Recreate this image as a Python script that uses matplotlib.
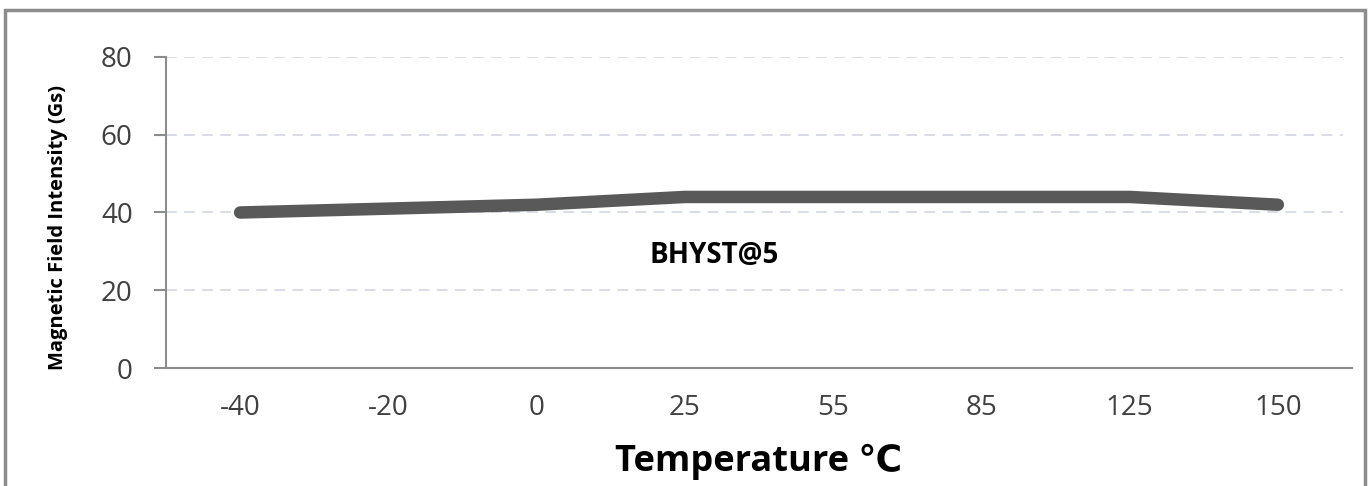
import matplotlib
matplotlib.use("Agg")
import matplotlib.pyplot as plt
from matplotlib.patches import Rectangle

# data
temps = ['-40', '-20', '0', '25', '55', '85', '125', '150']
bhyst = [40, 41, 42, 44, 44, 44, 44, 42]
yticks = [0, 20, 40, 60, 80]

fonts = ['Open Sans', 'DejaVu Sans']
plt.rcParams['font.family'] = fonts

W, H = 1370, 486
fig = plt.figure(figsize=(W/100, H/100), dpi=100)
ax = fig.add_axes([166/W, 1 - 368/H, (1352-166)/W, (368-57)/H])

x = range(len(temps))
ax.plot(x, bhyst, color='#595959', lw=9, solid_capstyle='round', solid_joinstyle='round', zorder=3)

ax.set_xlim(-0.5, len(temps) - 0.5)
ax.set_ylim(0, 80)
ax.set_xticks(list(x))
ax.set_xticklabels(temps)
ax.set_yticks(yticks)
ax.tick_params(axis='x', length=0, pad=19, labelsize=20, labelcolor='#404040')
ax.tick_params(axis='y', length=9, width=1.5, color='#8c8c8c', pad=15, labelsize=20, labelcolor='#404040')

for y in yticks[1:]:
    ax.axhline(y, xmax=(1343-166)/(1352-166), color='#d8d9e8', lw=1.3, ls=(0, (6, 4)), zorder=1)

for s in ['top', 'right']:
    ax.spines[s].set_visible(False)
for s in ['left', 'bottom']:
    ax.spines[s].set_color('#8c8c8c')
    ax.spines[s].set_linewidth(1.5)

ax.text(3.2, 29, 'BHYST@5', fontsize=20, fontweight='bold', ha='center', va='center')
fig.text(58/W, 1 - 227/H, 'Magnetic Field Intensity (Gs)', fontsize=14.5, fontweight='bold',
         rotation=90, ha='center', va='center')
fig.text(759/W, 1 - 462/H, 'Temperature ℃', fontsize=26, fontweight='bold',
         ha='center', va='center')

# outer frame
fig.patches.append(Rectangle((5/W, -0.05), (1365-5)/W, (1.05 - 10/H), transform=fig.transFigure,
                             fill=False, edgecolor='#8c8c8c', lw=2.5))

fig.savefig('out.png', dpi=100)
